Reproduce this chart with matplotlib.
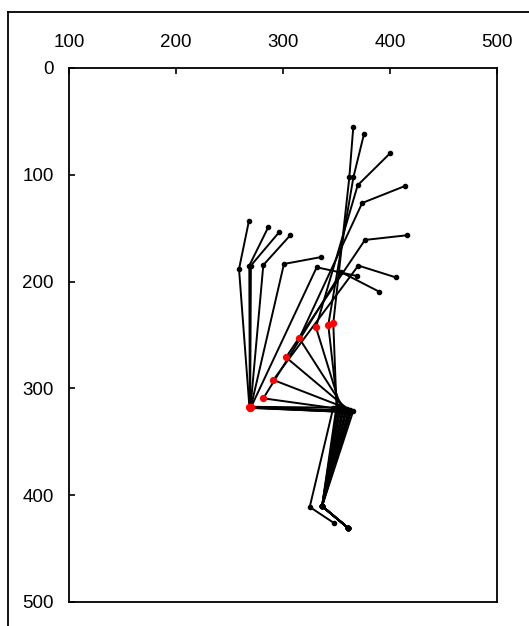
import matplotlib
matplotlib.use("Agg")
import matplotlib.pyplot as plt
from matplotlib.lines import Line2D

plt.rcParams['font.family'] = ['Liberation Sans', 'DejaVu Sans']

# Joint coordinates for each frame of the movement (data units)
toe_x = [348.0, 360.4, 360.4, 360.4, 360.4, 360.4, 360.4, 360.4, 360.4, 360.4, 360.4, 360.4, 360.4]
toe_y = [426.3, 430.3, 430.3, 430.3, 430.3, 430.3, 430.3, 430.3, 430.3, 430.3, 430.3, 430.3, 430.3]
ankle_x = [325.0, 336.5, 336.5, 336.5, 336.5, 336.5, 336.5, 336.5, 336.5, 336.5, 336.5, 336.5, 336.5]
ankle_y = [411.0, 410.2, 410.2, 410.2, 410.2, 410.2, 410.2, 410.2, 410.2, 410.2, 410.2, 410.2, 410.2]
knee_x = [347.0, 352.0, 355.0, 358.0, 361.0, 364.0, 365.7, 363.0, 360.0, 357.0, 354.0, 351.0, 350.0]
knee_y = [318.0, 321.0, 322.0, 322.0, 322.0, 321.0, 321.0, 320.0, 319.0, 318.5, 318.0, 317.5, 317.0]
hip_x = [268.6, 269.0, 269.3, 269.6, 269.9, 270.2, 281.6, 290.9, 302.8, 315.2, 330.8, 342.3, 347.0]
hip_y = [317.2, 317.6, 318.0, 318.3, 317.8, 317.4, 309.3, 292.1, 270.9, 253.1, 242.8, 240.6, 239.0]
shoulder_x = [258.9, 268.5, 270.0, 281.6, 300.9, 331.5, 354.4, 370.4, 376.6, 374.0, 369.8, 365.8, 362.0]
shoulder_y = [188.2, 185.0, 185.0, 184.5, 183.5, 186.6, 191.2, 185.0, 161.0, 126.4, 109.8, 102.3, 102.3]
top_x = [268.2, 286.3, 296.5, 306.8, 335.8, 369.4, 390.0, 405.3, 416.0, 414.0, 400.0, 375.7, 365.7]
top_y = [143.0, 148.9, 153.6, 156.6, 177.0, 194.8, 209.5, 196.0, 156.6, 110.5, 79.9, 61.8, 55.0]

x_ticks = [100, 200, 300, 400, 500]
y_ticks = [0, 100, 200, 300, 400, 500]

W, H = 529, 626
fig = plt.figure(figsize=(W / 100, H / 100), dpi=100)
ax = fig.add_axes([69 / W, 1 - 602 / H, (497 - 69) / W, (602 - 68) / H])

for i in range(len(hip_x)):
    xs = [toe_x[i], ankle_x[i], knee_x[i], hip_x[i], shoulder_x[i], top_x[i]]
    ys = [toe_y[i], ankle_y[i], knee_y[i], hip_y[i], shoulder_y[i], top_y[i]]
    ax.plot(xs, ys, '-o', color='black', lw=1.4, ms=3.0, zorder=2)
ax.plot(hip_x, hip_y, 'o', color='red', ms=4.2, mec='red', ls='none', zorder=3)

ax.set_xlim(100, 500)
ax.set_ylim(500, 0)
ax.xaxis.tick_top()
ax.set_xticks(x_ticks)
ax.set_yticks(y_ticks)
ax.tick_params(axis='x', direction='in', length=4, width=1.2, pad=12.5, labelsize=13.5, top=True, bottom=False)
ax.tick_params(axis='y', direction='in', length=4, width=1.2, pad=11, labelsize=13.5)
for s in ax.spines.values():
    s.set_linewidth(1.3)

# outer figure border (clipped at right and bottom)
x0 = 8 / W
y0 = 1 - 12 / H
fig.add_artist(Line2D([x0, x0], [-0.01, y0], transform=fig.transFigure, color='black', lw=1.3))
fig.add_artist(Line2D([x0, 1.01], [y0, y0], transform=fig.transFigure, color='black', lw=1.3))

fig.savefig("out.png", dpi=100)
